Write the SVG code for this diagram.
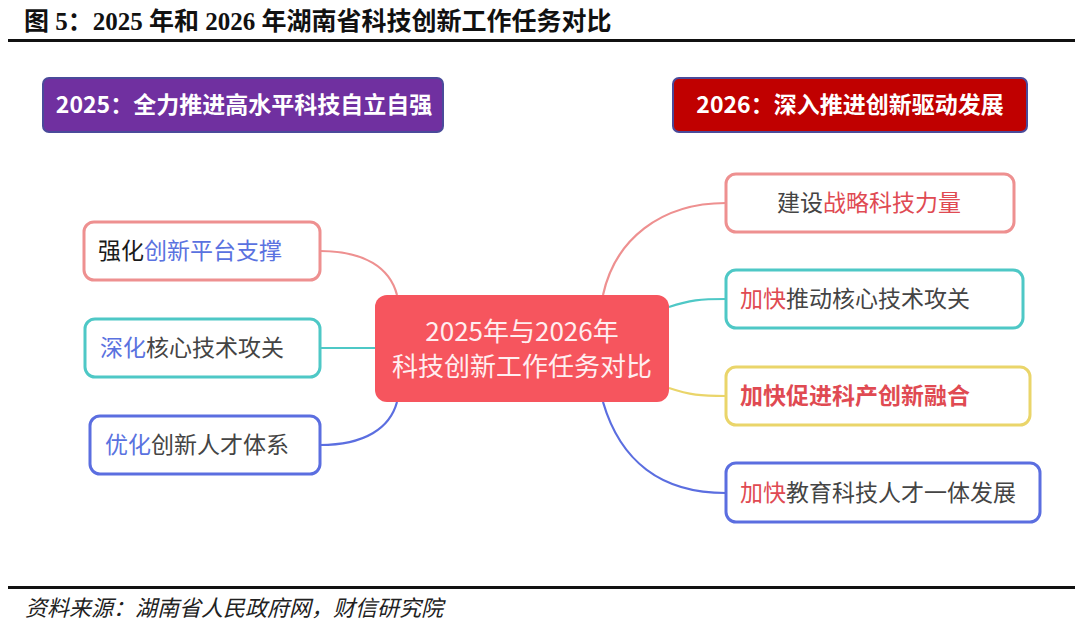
<svg xmlns="http://www.w3.org/2000/svg" width="1080" height="626" viewBox="0 0 1080 626">
<style>
.title{font-family:"Liberation Serif","Noto Sans CJK SC",serif;font-weight:bold;font-size:25px;fill:#111}
.src{font-family:"Liberation Serif","Noto Sans CJK SC",serif;font-style:italic;font-size:22px;fill:#222}
.hdr{font-family:"Noto Sans CJK SC",sans-serif;font-weight:bold;font-size:23px;fill:#fff}
.nt{font-family:"Noto Sans CJK SC",sans-serif;font-size:23px;fill:#444}
.ct{font-family:"Noto Sans CJK SC",sans-serif;font-size:26px;fill:#ffeef0}
.node{fill:#fff;stroke-width:3}
.pink{stroke:#ee9090}
.teal{stroke:#4ec8c6}
.blue{stroke:#5b6ee0}
.yellow{stroke:#ead56a}
.conn path{fill:none;stroke-width:2.2}
.b{fill:#5a72e0}
.r{fill:#e04a52}
.k{fill:#1a1a1a}
.bold{font-weight:bold;fill:#e04a52}
</style>
<rect width="1080" height="626" fill="#fff"/>
<text class="title" x="24" y="30">图 5：2025 年和 2026 年湖南省科技创新工作任务对比</text>
<rect x="8" y="39" width="1067" height="3" fill="#111"/>
<rect x="8" y="586" width="1067" height="3" fill="#111"/>
<text class="src" x="25" y="616">资料来源：湖南省人民政府网，财信研究院</text>

<g id="hdr2025">
<rect x="43" y="78" width="400" height="54" rx="6" fill="#7030a0" stroke="#4a4a9a" stroke-width="2"/>
<text class="hdr" x="244" y="113" text-anchor="middle">2025：全力推进高水平科技自立自强</text>
</g>
<g id="hdr2026">
<rect x="673" y="78" width="354" height="54" rx="6" fill="#c00000" stroke="#4a4a9a" stroke-width="2"/>
<text class="hdr" x="850" y="113" text-anchor="middle">2026：深入推进创新驱动发展</text>
</g>

<g class="conn">
<path class="pink" d="M320,251 C365,251 390,268 397,295"/>
<path class="teal" d="M320,348 L375,348"/>
<path class="blue" d="M320,445 C365,445 390,428 397,402"/>
<path class="pink" d="M603,295 C615,240 660,203 726,203"/>
<path class="teal" d="M669,307 C690,300 700,299 726,299"/>
<path class="yellow" d="M669,388 C690,395 700,396 726,396"/>
<path class="blue" d="M603,402 C620,460 660,493 726,493"/>
</g>

<g id="center">
<rect x="375" y="295" width="294" height="107" rx="12" fill="#f6555e"/>
<text class="ct" x="522" y="341" text-anchor="middle">2025年与2026年</text>
<text class="ct" x="522" y="376" text-anchor="middle">科技创新工作任务对比</text>
</g>

<g id="L1">
<rect class="node pink" x="84" y="222" width="236" height="58" rx="10"/>
<text class="nt" x="98" y="259"><tspan class="k">强化</tspan><tspan class="b">创新平台支撑</tspan></text>
</g>
<g id="L2">
<rect class="node teal" x="85" y="319" width="235" height="58" rx="10"/>
<text class="nt" x="100" y="356"><tspan class="b">深化</tspan>核心技术攻关</text>
</g>
<g id="L3">
<rect class="node blue" x="90" y="416" width="230" height="58" rx="10"/>
<text class="nt" x="105" y="453"><tspan class="b">优化</tspan>创新人才体系</text>
</g>

<g id="R1">
<rect class="node pink" x="726" y="174" width="288" height="58" rx="10"/>
<text class="nt" x="777" y="211">建设<tspan class="r">战略科技力量</tspan></text>
</g>
<g id="R2">
<rect class="node teal" x="726" y="270" width="297" height="58" rx="10"/>
<text class="nt" x="740" y="307"><tspan class="r">加快</tspan>推动核心技术攻关</text>
</g>
<g id="R3">
<rect class="node yellow" x="726" y="367" width="304" height="58" rx="10"/>
<text class="nt bold" x="740" y="404">加快促进科产创新融合</text>
</g>
<g id="R4">
<rect class="node blue" x="726" y="463" width="314" height="59" rx="10"/>
<text class="nt" x="740" y="501"><tspan class="r">加快</tspan>教育科技人才一体发展</text>
</g>
</svg>
